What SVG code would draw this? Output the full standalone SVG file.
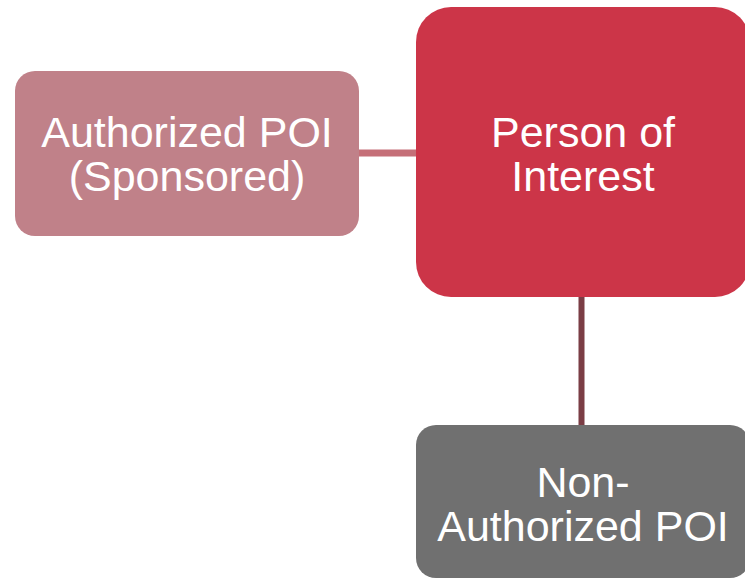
<svg xmlns="http://www.w3.org/2000/svg" width="745" height="578" viewBox="0 0 745 578">
<style>
.lbl{font-family:"Liberation Sans",Arial,sans-serif;font-size:43px;fill:#ffffff;text-anchor:middle}
</style>
<rect width="745" height="578" fill="#ffffff"/>
<g id="connectors">
<line x1="358" y1="153" x2="418" y2="153" stroke="#c56f78" stroke-width="7"/>
<line x1="581.5" y1="295" x2="581.5" y2="427" stroke="#7b3d45" stroke-width="6"/>
</g>
<g id="node-authorized">
<rect x="15" y="71" width="344" height="165" rx="20" fill="#c08189"/>
<text class="lbl" x="187" y="147">Authorized POI</text>
<text class="lbl" x="187" y="191">(Sponsored)</text>
</g>
<g id="node-poi">
<rect x="416" y="7" width="334" height="290" rx="35" fill="#cc3548"/>
<text class="lbl" x="583" y="147">Person of</text>
<text class="lbl" x="583" y="191">Interest</text>
</g>
<g id="node-nonauth">
<rect x="416" y="425" width="334" height="153" rx="20" fill="#707070"/>
<text class="lbl" x="583" y="497">Non-</text>
<text class="lbl" x="583" y="541">Authorized POI</text>
</g>
</svg>
